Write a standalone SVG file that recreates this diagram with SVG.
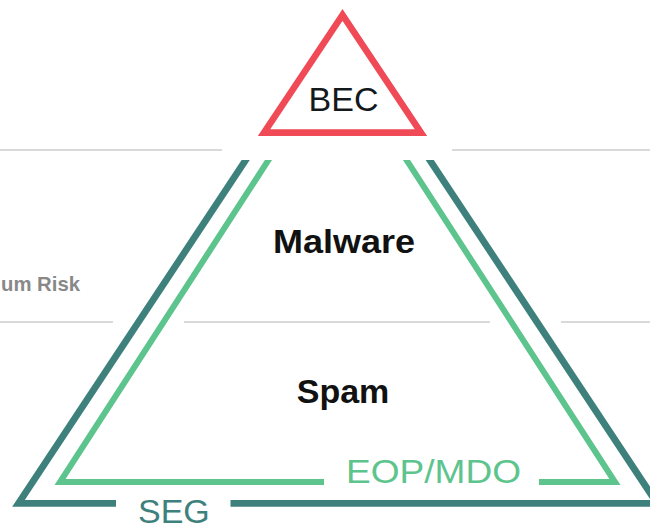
<svg xmlns="http://www.w3.org/2000/svg" width="650" height="529" viewBox="0 0 650 529">
  <style>
    .sep { stroke: #cccccc; stroke-width: 1.5; fill: none; }
    .lbl { font-family: "Liberation Sans", Arial, sans-serif; font-size: 34px; }
    .bold { font-weight: bold; fill: #111111; }
    .teal { stroke: #3e817c; stroke-width: 6.8; fill: none; stroke-linejoin: miter; stroke-miterlimit: 10; }
    .green { stroke: #5ec48e; stroke-width: 6; fill: none; stroke-linejoin: miter; stroke-miterlimit: 10; }
  </style>
  <defs>
    <clipPath id="below">
      <rect x="-20" y="160" width="700" height="400"/>
    </clipPath>
  </defs>
  <rect width="650" height="529" fill="#ffffff"/>

  <g id="separators">
    <line class="sep" x1="0" y1="150" x2="222" y2="150"/>
    <line class="sep" x1="452" y1="150" x2="650" y2="150"/>
    <line class="sep" x1="0" y1="322" x2="113" y2="322"/>
    <line class="sep" x1="184" y1="322" x2="490" y2="322"/>
    <line class="sep" x1="561" y1="322" x2="650" y2="322"/>
  </g>

  <g id="risk-label">
    <text x="1" y="291" font-family="Liberation Sans, Arial, sans-serif" font-size="20.5" font-weight="bold" fill="#888888" textLength="79" lengthAdjust="spacingAndGlyphs">um Risk</text>
  </g>

  <g id="connectors" clip-path="url(#below)">
    <polyline class="teal" points="116,503.3 18.5,503.3 337.7,21"/>
    <polyline class="teal" points="230.5,503.3 657,503.3 337.7,21"/>
    <polyline class="green" points="324,482 60,482 337.5,53.4"/>
    <polyline class="green" points="539,482 615,482 337.5,53.4"/>
  </g>

  <g id="bec">
    <polygon points="342.5,15 264,132.6 421,132.6" fill="none" stroke="#ef4a55" stroke-width="6.6" stroke-linejoin="miter" stroke-miterlimit="10"/>
    <text class="lbl" x="343.5" y="111" text-anchor="middle" fill="#14191c">BEC</text>
  </g>

  <g id="malware">
    <text class="lbl bold" x="273" y="252.7" textLength="142" lengthAdjust="spacingAndGlyphs">Malware</text>
  </g>

  <g id="spam">
    <text class="lbl bold" x="343" y="402.7" text-anchor="middle">Spam</text>
  </g>

  <g id="eop-mdo">
    <text class="lbl" x="346" y="482.7" textLength="175" lengthAdjust="spacingAndGlyphs" fill="#5ec48e">EOP/MDO</text>
  </g>

  <g id="seg">
    <text class="lbl" x="138" y="523" fill="#3e817c">SEG</text>
  </g>
</svg>
